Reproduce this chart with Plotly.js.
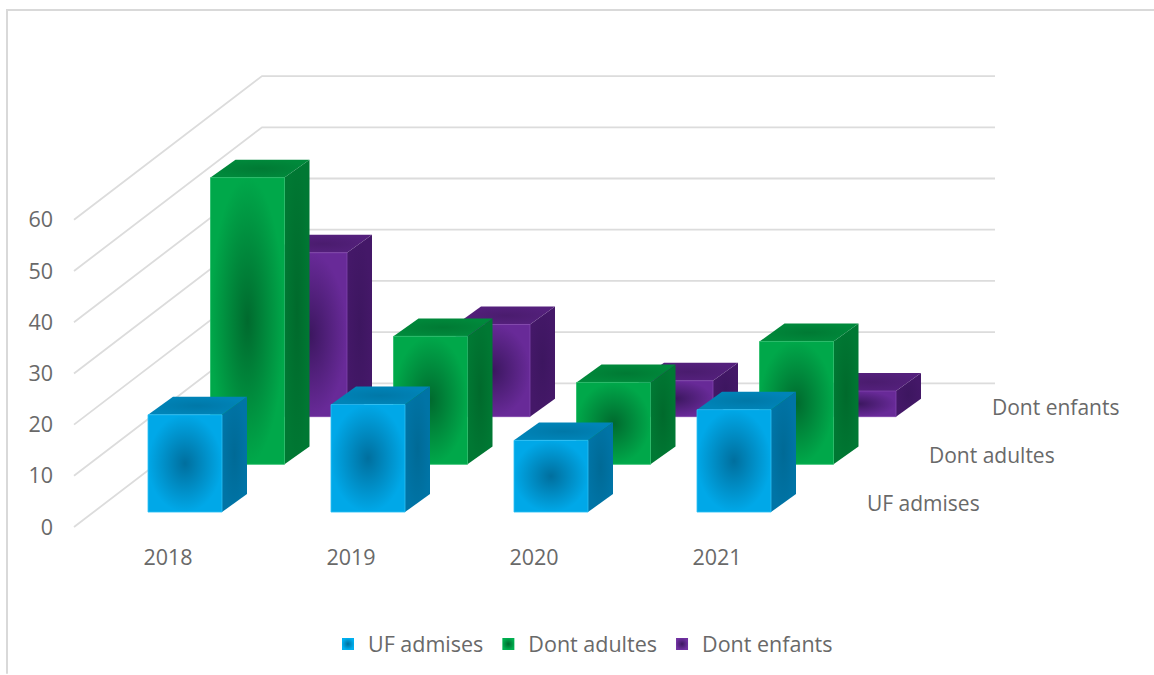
<!DOCTYPE html>
<html>
<head>
<meta charset="utf-8">
<script src="https://cdn.plot.ly/plotly-3.0.1.min.js"></script>
<style>html,body{margin:0;padding:0;background:#fff}#chart{width:1154px;height:675px}</style>
</head>
<body>
<div id="chart"></div>
<script>
// ---- Data ----
const categories = ['2018', '2019', '2020', '2021'];
const seriesNames = ['UF admises', 'Dont adultes', 'Dont enfants'];
const ufAdmises = [19, 21, 14, 20];
const dontAdultes = [56, 25, 16, 24];
const dontEnfants = [32, 18, 7, 5];
const yTicks = [0, 10, 20, 30, 40, 50, 60];

// ---- Styles ----
const palette = [
  {edge:'#00a8e8', center:'#006f9e', stroke:'#2cc0f5', legendEdge:'#00b0f0', sideEdge:'#0074a6', sideCenter:'#006a96', topEdge:'#0084b8', topCenter:'#0078a8'},
  {edge:'#00a84a', center:'#006a2e', stroke:'#26bd68', legendEdge:'#00b050', sideEdge:'#007833', sideCenter:'#006a2c', topEdge:'#00893b', topCenter:'#007a34'},
  {edge:'#682a98', center:'#3c1760', stroke:'#8044ac', legendEdge:'#7030a0', sideEdge:'#441868', sideCenter:'#3d1660', topEdge:'#54207c', topCenter:'#4a1c6e'}
];
const gridColor = '#dcdcdc';
const textColor = '#696969';
const fontFamily = '"Open Sans", "Noto Sans", sans-serif';

// ---- Oblique projection geometry, in axis units ----
const W = 1154, H = 675;
const plotL = 54, plotR = 1124, plotT = 20, plotB = 543;
const pxPerCat = 183, pxPerVal = 5.13;
const catZeroPx = 168, valZeroPx = 528;
const dxUnits = px => px / pxPerCat;
const dyUnits = px => px / pxPerVal;
const barLeft = dxUnits(148 - catZeroPx), barW = dxUnits(74);
const depthX = dxUnits(25), depthY = dyUnits(18);
const rowX = dxUnits(62.5), rowY = dyUnits(47.8), rowY0 = dyUnits(15);
const gridX0 = dxUnits(74 - catZeroPx), gridX1 = dxUnits(262 - catZeroPx), gridX2 = dxUnits(995 - catZeroPx);
const gridRise = dyUnits(144);

const traces = [];

// Floor / wall grid lines
const gx = [], gy = [];
yTicks.forEach(v => {
  gx.push(gridX0, gridX1, gridX2, null);
  gy.push(v, v + gridRise, v + gridRise, null);
});
traces.push({type:'scatter', mode:'lines', x:gx, y:gy, line:{color:gridColor, width:1.8},
  hoverinfo:'skip', showlegend:false});

function face(xs, ys, c, e, lineColor) {
  traces.push({
    type:'scatter', mode:'lines', x:xs.concat(xs[0]), y:ys.concat(ys[0]), fill:'toself',
    line:{width: lineColor ? 0.8 : 0, color: lineColor || c},
    fillgradient:{type:'radial', colorscale:[[0, c],[1, e]]},
    hoverinfo:'skip', showlegend:false
  });
}
const seriesValues = [ufAdmises, dontAdultes, dontEnfants];
for (let s = seriesValues.length - 1; s >= 0; s--) {
  const p = palette[s];
  categories.forEach((cat, i) => {
    const v = seriesValues[s][i];
    const x0 = i + barLeft + s * rowX, x1 = x0 + barW;
    const y0 = rowY0 + s * rowY, y1 = y0 + v;
    face([x1, x1 + depthX, x1 + depthX, x1], [y0, y0 + depthY, y1 + depthY, y1], p.sideCenter, p.sideEdge);
    face([x0, x1, x1 + depthX, x0 + depthX], [y1, y1, y1 + depthY, y1 + depthY], p.topCenter, p.topEdge);
    face([x0, x1, x1, x0], [y0, y0, y1, y1], p.center, p.edge, p.stroke);
  });
}

// Legend entries
seriesNames.forEach((name, s) => {
  traces.push({type:'scatter', mode:'markers', name:name, x:[null], y:[null],
    marker:{symbol:'square', size:12, color:palette[s].legendEdge,
      gradient:{type:'radial', color:palette[s].center}},
    hoverinfo:'skip', showlegend:true});
});

// Depth-axis series labels
const depthLabelX = [923, 992, 1055];
const annotations = seriesNames.map((name, s) => ({
  x: dxUnits(depthLabelX[s] - catZeroPx), y: dyUnits(valZeroPx - (504 - 48 * s)),
  xref:'x', yref:'y', text:name, showarrow:false, xanchor:'center', yanchor:'middle',
  font:{family:fontFamily, size:21, color:textColor}
}));

const pW = plotR - plotL, pH = plotB - plotT;
const px = x => (x - plotL) / pW, py = y => (plotB - y) / pH;
const frame = {type:'path', xref:'paper', yref:'paper',
  path:`M ${px(7)} ${py(H)} L ${px(7)} ${py(10)} L ${px(W)} ${py(10)}`,
  line:{color:'#d9d9d9', width:2}, layer:'below'};

const layout = {
  width:W, height:H, paper_bgcolor:'#fff', plot_bgcolor:'rgba(0,0,0,0)',
  margin:{l:plotL, r:W - plotR, t:plotT, b:H - plotB, pad:0},
  font:{family:fontFamily, size:21.5, color:textColor},
  xaxis:{range:[(plotL - catZeroPx) / pxPerCat, (plotR - catZeroPx) / pxPerCat],
    tickmode:'array', tickvals:categories.map((c, i) => i), ticktext:categories,
    showgrid:false, zeroline:false, showline:false, ticks:'', fixedrange:true},
  yaxis:{range:[(valZeroPx - plotB) / pxPerVal, (valZeroPx - plotT) / pxPerVal],
    tickmode:'array', tickvals:yTicks, ticktext:yTicks.map(String),
    showgrid:false, zeroline:false, showline:false, ticks:'', fixedrange:true},
  legend:{orientation:'h', x:px(328), y:py(644), xanchor:'left', yanchor:'middle',
    bgcolor:'rgba(0,0,0,0)', font:{family:fontFamily, size:21.5, color:textColor}},
  shapes:[frame],
  annotations:annotations,
  showlegend:true
};
Plotly.newPlot('chart', traces, layout, {displayModeBar:false, staticPlot:true});
</script>
</body>
</html>
